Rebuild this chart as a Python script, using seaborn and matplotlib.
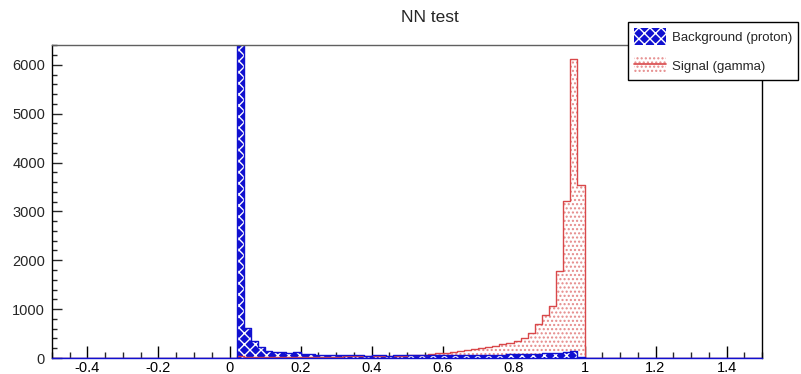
import numpy as np
import pandas as pd
import matplotlib
matplotlib.use("Agg")
import matplotlib.pyplot as plt
from matplotlib.patches import Patch
from matplotlib.lines import Line2D
from matplotlib.ticker import MultipleLocator, FormatStrFormatter
import seaborn as sns

# ---- data (bins of width 0.02, lower edges from 0.02 to 0.98) ----
bin_low = [round(0.02 + 0.02 * i, 2) for i in range(49)]
background = [40000, 620, 350, 235, 145, 120, 115, 110, 115, 80,
              75, 70, 70, 65, 65, 60, 55, 55, 50, 60,
              55, 50, 70, 55, 60, 55, 60, 60, 65, 55,
              55, 60, 60, 65, 60, 65, 70, 70, 75, 75,
              80, 85, 90, 95, 100, 110, 120, 150, 20]
signal = [40, 30, 25, 25, 25, 25, 25, 25, 30, 30,
          30, 30, 30, 30, 30, 32, 32, 35, 35, 35,
          38, 40, 45, 50, 55, 60, 70, 85, 100, 110,
          125, 140, 155, 175, 195, 220, 250, 285, 300, 340,
          405, 520, 690, 885, 1060, 1782, 3222, 6123, 3530]
xlim = (-0.5, 1.5)
bin_width = 0.02
title = "NN test"
labels = ["Background (proton)", "Signal (gamma)"]

edges = [float(e) for e in np.round(np.arange(xlim[0], xlim[1] + bin_width / 2, bin_width), 4)]
centers = [b + bin_width / 2 for b in bin_low]
df = pd.DataFrame({"x": centers, "bkg": background, "sig": signal})

sns.set_style("ticks")
plt.rcParams["font.family"] = ["Liberation Sans", "DejaVu Sans"]
plt.rcParams["axes.unicode_minus"] = False
plt.rcParams["hatch.linewidth"] = 1.0

fig = plt.figure(figsize=(8.01, 3.74), dpi=100)
ax = fig.add_axes([52 / 801, 1 - 358 / 374, (762 - 52) / 801, (358 - 45) / 374])

blue = "#1010d0"
red = "#d9484a"
dotred = "#e58a8a"

# signal fill (dotted)
sns.histplot(data=df, x="x", weights="sig", bins=edges, element="step", fill=True,
             facecolor="white", edgecolor=dotred, hatch="....", linewidth=0, ax=ax)
# background fill (blue with white crosshatch)
sns.histplot(data=df, x="x", weights="bkg", bins=edges, element="step", fill=True,
             facecolor=blue, edgecolor="white", hatch="xxx", linewidth=0, ax=ax)
# outlines
sns.histplot(data=df, x="x", weights="sig", bins=edges, element="step", fill=False,
             color=red, linewidth=1.0, ax=ax)
sns.histplot(data=df, x="x", weights="bkg", bins=edges, element="step", fill=False,
             color=blue, linewidth=1.0, ax=ax)

ymax = max(signal) * 1.046
ax.set_xlim(*xlim)
ax.set_ylim(0, ymax)
ax.set_xlabel("")
ax.set_ylabel("")

ax.xaxis.set_major_locator(MultipleLocator(0.2))
ax.xaxis.set_minor_locator(MultipleLocator(0.05))
ax.yaxis.set_major_locator(MultipleLocator(1000))
ax.yaxis.set_minor_locator(MultipleLocator(200))
ax.xaxis.set_major_formatter(FormatStrFormatter("%g"))
ax.tick_params(axis="x", which="major", direction="in", length=9, width=1, pad=2,
               labelsize=10.5, colors="black")
ax.tick_params(axis="x", which="minor", direction="in", length=4.5, width=1)
ax.tick_params(axis="y", which="major", direction="in", length=7, width=1, pad=5,
               labelsize=10.5)
ax.tick_params(axis="y", which="minor", direction="in", length=3.5, width=1)
ax.tick_params(top=False, right=False, which="both")

for s in ["left", "right"]:
    ax.spines[s].set_color("black")
    ax.spines[s].set_linewidth(1)
ax.spines["top"].set_color("#606060")
ax.spines["top"].set_linewidth(1)
ax.spines["bottom"].set_color(blue)
ax.spines["bottom"].set_linewidth(1)
ax.spines["top"].set_visible(True)
ax.spines["right"].set_visible(True)

fig.text(430 / 801, 1 - 18 / 374, title, ha="center", va="center", fontsize=12.5)

h_bkg = Patch(facecolor=blue, edgecolor="white", hatch="xxx", linewidth=0)
h_sig = (Patch(facecolor="white", edgecolor=dotred, hatch="....", linewidth=0),
         Line2D([0], [0], color=red, linewidth=1.2))
leg = fig.legend([h_bkg, h_sig], labels, loc="upper left",
                 bbox_to_anchor=(628 / 801, 1 - 22 / 374), bbox_transform=fig.transFigure,
                 frameon=True, fancybox=False, shadow=False, edgecolor="black",
                 framealpha=1, fontsize=9.5, handlelength=2.4, handleheight=1.6,
                 labelspacing=0.95, borderpad=0.45, handletextpad=0.5, borderaxespad=0)
leg.get_frame().set_linewidth(1)

fig.savefig("out.png", dpi=100)
